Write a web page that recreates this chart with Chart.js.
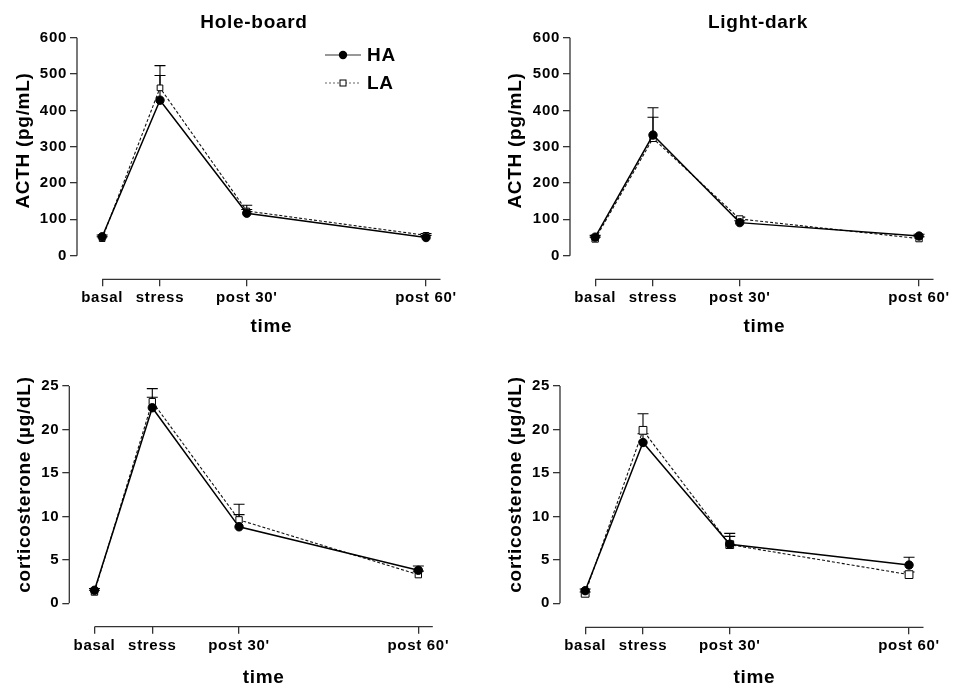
<!DOCTYPE html>
<html>
<head>
<meta charset="utf-8">
<script src="https://cdn.jsdelivr.net/npm/chart.js@4.4.1/dist/chart.umd.min.js"></script>
<style>
  body { margin: 0; background: #fff; }
  #wrap { position: relative; width: 953px; height: 688px; }
  canvas { position: absolute; }
</style>
</head>
<body>
<div id="wrap">
  <canvas id="hbActh" width="476" height="344" style="left:0;top:0"></canvas>
  <canvas id="ldActh" width="477" height="344" style="left:476px;top:0"></canvas>
  <canvas id="hbCort" width="476" height="344" style="left:0;top:344px"></canvas>
  <canvas id="ldCort" width="477" height="344" style="left:476px;top:344px"></canvas>
</div>
<script>
// time points (x positions follow the original spacing) and their labels
const timeLabels = ['basal', 'stress', "post 30'", "post 60'"];
const timePoints = [0, 10, 25, 56];
const acthTicks = [0, 100, 200, 300, 400, 500, 600];
const cortTicks = [0, 5, 10, 15, 20, 25];

// Hole-board, ACTH (pg/mL)
const hbActhHA = [52, 428, 117, 50];
const hbActhHAsem = [5, 68, 10, 6];
const hbActhLA = [47, 462, 123, 56];
const hbActhLAsem = [5, 61, 16, 5];

// Light-dark, ACTH (pg/mL)
const ldActhHA = [51, 332, 91, 54];
const ldActhHAsem = [5, 75, 5, 5];
const ldActhLA = [46, 323, 101, 47];
const ldActhLAsem = [5, 58, 5, 5];

// Hole-board, corticosterone (µg/dL)
const hbCortHA = [1.5, 22.5, 8.8, 3.8];
const hbCortHAsem = [0.2, 1.2, 1.4, 0.5];
const hbCortLA = [1.3, 23.2, 9.6, 3.3];
const hbCortLAsem = [0.2, 1.5, 1.8, 0.4];

// Light-dark, corticosterone (µg/dL)
const ldCortHA = [1.45, 18.5, 6.8, 4.4];
const ldCortHAsem = [0.2, 1.0, 1.25, 0.9];
const ldCortLA = [1.15, 19.9, 6.75, 3.3];
const ldCortLAsem = [0.15, 1.9, 0.95, 0.3];

const FONT = '"Liberation Sans", Arial, Helvetica, sans-serif';
const xMin = -4.35, xMax = 58.5;

Chart.defaults.font.family = FONT;

function toPoints(vals) {
    return timePoints.map((t, i) => ({ x: t, y: vals[i] }));
}

// axes lines, error bars, titles and legend
const panelDecor = {
    id: 'panelDecor',
    beforeDraw(chart) {
        // the original lettering is a little wider than Arial
        chart.ctx.letterSpacing = '0.7px';
    },
    beforeDatasetsDraw(chart, args, opts) {
        const { ctx, chartArea } = chart;
        const xs = chart.scales.x, ys = chart.scales.y;
        ctx.save();
        ctx.strokeStyle = '#333';
        ctx.lineWidth = 1.3;
        ctx.beginPath();
        ctx.moveTo(chartArea.left, ys.getPixelForValue(0));
        ctx.lineTo(chartArea.left, ys.getPixelForValue(ys.max));
        ctx.moveTo(xs.getPixelForValue(0), chartArea.bottom);
        ctx.lineTo(chartArea.right, chartArea.bottom);
        ctx.stroke();

        // error bars (upper SEM only)
        ctx.strokeStyle = '#000';
        ctx.lineWidth = 1.1;
        chart.data.datasets.forEach((ds, i) => {
            const meta = chart.getDatasetMeta(i);
            meta.data.forEach((pt, j) => {
                const top = ys.getPixelForValue(ds.data[j].y + ds.sem[j]);
                ctx.beginPath();
                ctx.moveTo(pt.x, pt.y);
                ctx.lineTo(pt.x, top);
                ctx.moveTo(pt.x - 5.5, top);
                ctx.lineTo(pt.x + 5.5, top);
                ctx.stroke();
            });
        });
        ctx.restore();
    },
    afterDraw(chart, args, opts) {
        const { ctx, chartArea } = chart;
        const xs = chart.scales.x;
        ctx.save();
        ctx.fillStyle = '#000';
        ctx.font = 'bold 19px ' + FONT;

        if (opts.title) {
            ctx.textAlign = 'center';
            ctx.textBaseline = 'alphabetic';
            ctx.fillText(opts.title, opts.titleX, 27.5);
        }

        // x axis title
        ctx.textAlign = 'center';
        ctx.textBaseline = 'alphabetic';
        ctx.fillText('time', (xs.getPixelForValue(0) + chartArea.right) / 2, opts.xTitleY);

        // y axis title
        ctx.save();
        ctx.translate(opts.yTitleX, 140.5);
        ctx.rotate(-Math.PI / 2);
        ctx.textBaseline = 'middle';
        ctx.fillText(opts.yTitle, 0, 0);
        ctx.restore();

        if (opts.legend) {
            const items = [
                { label: 'HA', y: 55, dash: [], circle: true },
                { label: 'LA', y: 83, dash: [2, 2], circle: false }
            ];
            items.forEach(it => {
                ctx.strokeStyle = it.circle ? '#333' : '#666';
                ctx.lineWidth = 1.2;
                ctx.setLineDash(it.dash);
                ctx.beginPath();
                ctx.moveTo(325, it.y);
                ctx.lineTo(361, it.y);
                ctx.stroke();
                ctx.setLineDash([]);
                if (it.circle) {
                    ctx.fillStyle = '#000';
                    ctx.beginPath();
                    ctx.arc(343, it.y, 4.2, 0, Math.PI * 2);
                    ctx.fill();
                } else {
                    ctx.fillStyle = '#fff';
                    ctx.fillRect(340, it.y - 3, 6, 6);
                    ctx.strokeStyle = '#000';
                    ctx.lineWidth = 1;
                    ctx.strokeRect(340, it.y - 3, 6, 6);
                }
                ctx.fillStyle = '#000';
                ctx.textAlign = 'left';
                ctx.textBaseline = 'middle';
                ctx.fillText(it.label, 367, it.y + 1);
            });
        }
        ctx.restore();
    }
};

function makePanel(id, p) {
    const canvas = document.getElementById(id);
    const W = canvas.width, H = canvas.height;
    const tickGrid = { drawOnChartArea: false, drawTicks: true, tickLength: 7, color: '#333', lineWidth: 1.3 };
    return new Chart(canvas, {
        type: 'line',
        data: {
            datasets: [
                {
                    label: 'HA', data: toPoints(p.ha), sem: p.haSem,
                    borderColor: '#000', borderWidth: 1.5, tension: 0,
                    pointStyle: 'circle', pointRadius: 4.2,
                    pointBackgroundColor: '#000', pointBorderColor: '#000', pointBorderWidth: 1
                },
                {
                    label: 'LA', data: toPoints(p.la), sem: p.laSem,
                    borderColor: '#111', borderWidth: 1.1, borderDash: [3, 2], tension: 0,
                    pointStyle: 'rect', pointRadius: p.sq,
                    pointBackgroundColor: '#fff', pointBorderColor: '#000', pointBorderWidth: 1
                }
            ]
        },
        options: {
            responsive: false,
            animation: false,
            devicePixelRatio: 1,
            layout: { padding: { left: 0, top: p.top, right: W - p.right, bottom: 0 } },
            plugins: {
                legend: { display: false },
                tooltip: { enabled: false },
                panelDecor: {
                    title: p.title, titleX: p.titleX, legend: p.legend,
                    yTitle: p.yTitle, yTitleX: p.yTitleX, xTitleY: p.xTitleY
                }
            },
            scales: {
                x: {
                    type: 'linear', min: xMin, max: xMax,
                    afterBuildTicks: s => { s.ticks = timePoints.map(v => ({ value: v })); },
                    afterFit: s => { s.height = H - p.bottom; },
                    ticks: {
                        callback: (v, i) => timeLabels[i],
                        autoSkip: false, maxRotation: 0, minRotation: 0, padding: 3,
                        color: '#000', font: { size: 15, weight: 'bold' }
                    },
                    grid: tickGrid,
                    border: { display: false }
                },
                y: {
                    type: 'linear', min: p.yMin, max: p.yTicks[p.yTicks.length - 1],
                    afterBuildTicks: s => { s.ticks = p.yTicks.map(v => ({ value: v })); },
                    afterFit: s => { s.width = p.left; },
                    ticks: { padding: 3, color: '#000', font: { size: 15, weight: 'bold' } },
                    grid: tickGrid,
                    border: { display: false }
                }
            }
        },
        plugins: [panelDecor]
    });
}

makePanel('hbActh', {
    ha: hbActhHA, haSem: hbActhHAsem, la: hbActhLA, laSem: hbActhLAsem,
    yTicks: acthTicks, yMin: -65, sq: 4,
    left: 77, right: 440.5, top: 37.7, bottom: 279.3,
    title: 'Hole-board', titleX: 254, legend: true,
    yTitle: 'ACTH (pg/mL)', yTitleX: 24, xTitleY: 331.5
});
makePanel('ldActh', {
    ha: ldActhHA, haSem: ldActhHAsem, la: ldActhLA, laSem: ldActhLAsem,
    yTicks: acthTicks, yMin: -65, sq: 4.5,
    left: 94, right: 457.5, top: 37.7, bottom: 279.3,
    title: 'Light-dark', titleX: 282, legend: false,
    yTitle: 'ACTH (pg/mL)', yTitleX: 40, xTitleY: 331.5
});
makePanel('hbCort', {
    ha: hbCortHA, haSem: hbCortHAsem, la: hbCortLA, laSem: hbCortLAsem,
    yTicks: cortTicks, yMin: -2.69, sq: 4.5,
    left: 69.3, right: 432.8, top: 42, bottom: 282.7,
    title: '', legend: false,
    yTitle: 'corticosterone (µg/dL)', yTitleX: 25, xTitleY: 339.3
});
makePanel('ldCort', {
    ha: ldCortHA, haSem: ldCortHAsem, la: ldCortLA, laSem: ldCortLAsem,
    yTicks: cortTicks, yMin: -2.76, sq: 5.5,
    left: 84, right: 447.5, top: 42, bottom: 283.3,
    title: '', legend: false,
    yTitle: 'corticosterone (µg/dL)', yTitleX: 40, xTitleY: 339.3
});
</script>
</body>
</html>
